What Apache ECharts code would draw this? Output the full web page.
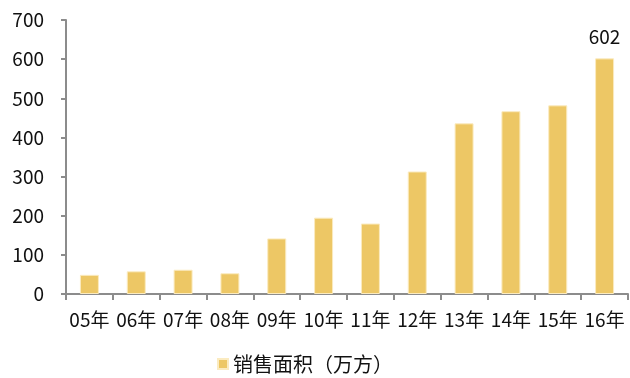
<!DOCTYPE html>
<html>
<head>
<meta charset="utf-8">
<script src="https://cdn.jsdelivr.net/npm/echarts@6/dist/echarts.min.js"></script>
<style>html,body{margin:0;padding:0;background:#fff;}#c{width:630px;height:378px;}</style>
</head>
<body>
<div id="c"></div>
<script>
const categories = ['05年','06年','07年','08年','09年','10年','11年','12年','13年','14年','15年','16年'];
const salesArea = [49, 58, 62, 53, 142, 195, 180, 313, 436, 467, 482, 602];
const seriesName = '销售面积（万方）';
const yTicks = {min: 0, max: 700, interval: 100};

const font = '"Noto Sans CJK SC", "Noto Sans", sans-serif';
const chart = echarts.init(document.getElementById('c'));
chart.setOption({
  animation: false,
  textStyle: {fontFamily: font},
  grid: {left: 66, right: 2, top: 20, bottom: 84, containLabel: false},
  legend: {
    data: [seriesName],
    bottom: -1,
    left: 212,
    itemWidth: 10, itemHeight: 10,
    itemGap: 4,
    icon: 'rect',
    textStyle: {fontSize: 20, color: '#111', fontFamily: font}
  },
  xAxis: {
    type: 'category',
    data: categories,
    axisLine: {lineStyle: {color: '#8c8c8c', width: 2}},
    axisTick: {show: true, alignWithLabel: false, length: 6, lineStyle: {color: '#8c8c8c', width: 2}},
    axisLabel: {fontSize: 19, color: '#111', margin: 16, interval: 0, fontFamily: font}
  },
  yAxis: {
    type: 'value',
    min: yTicks.min, max: yTicks.max, interval: yTicks.interval,
    axisLine: {show: true, lineStyle: {color: '#8c8c8c', width: 2}},
    axisTick: {show: true, length: 5, lineStyle: {color: '#8c8c8c', width: 2}},
    splitLine: {show: false},
    axisLabel: {fontSize: 19, color: '#111', margin: 22, fontFamily: font}
  },
  series: [{
    name: seriesName,
    type: 'bar',
    data: salesArea.map((v, i) => i === salesArea.length - 1
      ? {value: v, label: {show: true}}
      : v),
    barWidth: 19,
    itemStyle: {color: '#EDC765', borderColor: '#FBEBC0', borderWidth: 1},
    label: {show: false, position: 'top', fontSize: 19, color: '#111', distance: 12, fontFamily: font}
  }]
});
</script>
</body>
</html>
